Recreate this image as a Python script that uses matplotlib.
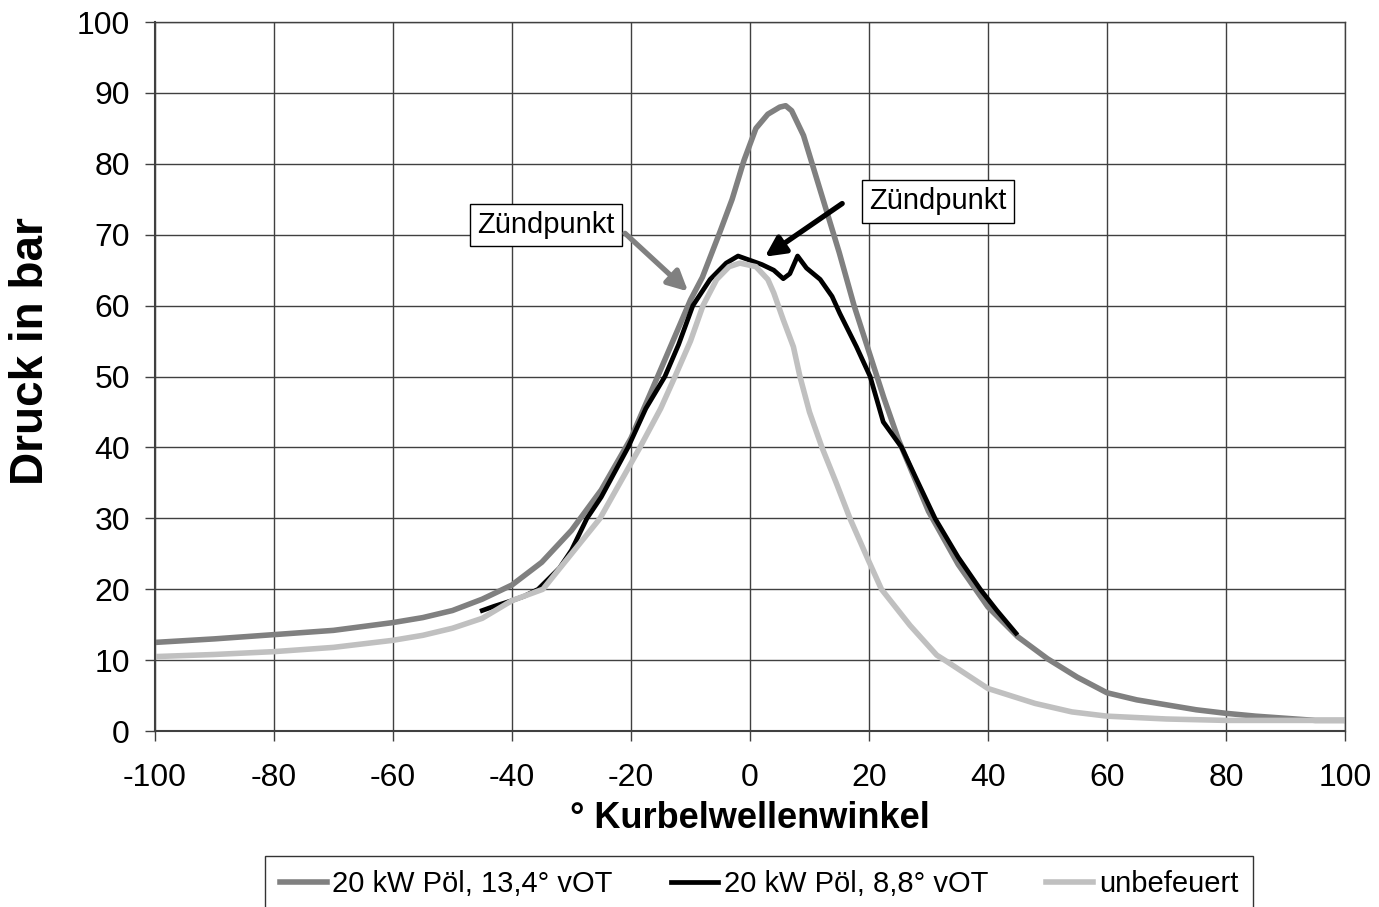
import numpy as np
import matplotlib
matplotlib.use("Agg")
import matplotlib.pyplot as plt

plt.rcParams['font.family'] = ['Liberation Sans', 'DejaVu Sans']
plt.rcParams['axes.unicode_minus'] = False

# 20 kW Pöl, 13,4° vOT (dunkelgrau)
kw_a = [-100, -90, -80, -70, -60, -55, -50, -45, -40, -35, -30, -25, -20, -15,
        -10, -8, -5, -3, -1, 1, 3, 5, 6, 7, 9, 11, 13, 15, 17.5, 20, 22.5, 25,
        30, 35, 40, 45, 50, 55, 60, 65, 70, 75, 80, 85, 90, 95, 100]
p_a = [12.5, 13.0, 13.6, 14.2, 15.3, 16.0, 17.0, 18.6, 20.6, 23.8, 28.3, 34.0,
       41.3, 51.0, 60.8, 64.0, 70.5, 75.0, 80.5, 85.0, 87.0, 88.0, 88.2, 87.5,
       84.0, 78.5, 73.0, 67.5, 60.0, 53.5, 47.0, 41.0, 31.0, 23.5, 17.5, 13.3,
       10.2, 7.6, 5.4, 4.4, 3.7, 3.0, 2.5, 2.1, 1.8, 1.5, 1.5]

# 20 kW Pöl, 8,8° vOT (schwarz)
kw_b = [-45, -43, -41.5, -40, -38, -35.6, -32, -30, -27.4, -25, -20.5, -17.5,
        -14.3, -12, -9.6, -6.7, -4, -2, 0, 2, 4, 5.6, 6.7, 8, 9.5, 11.8, 13.8,
        15.1, 17.9, 20.2, 22.4, 25.5, 28, 31.1, 35, 38.7, 41.5, 44.7]
p_b = [17.0, 17.6, 18.0, 18.4, 19.0, 20.0, 23.0, 25.5, 30.0, 33.0, 40.0, 45.5,
       50.0, 54.5, 60.0, 63.7, 66.0, 67.0, 66.4, 65.8, 65.0, 63.8, 64.5, 67.0,
       65.3, 63.7, 61.3, 58.9, 54.2, 50.0, 43.6, 40.0, 35.5, 30.0, 24.5, 20.0,
       17.0, 13.8]

# unbefeuert (hellgrau)
kw_c = [-100, -90, -80, -70, -60, -55, -50, -45, -40, -34.8, -30, -25.2, -18.5,
        -15, -12.6, -10, -7.9, -5.6, -3.5, -1.7, 1, 3, 4, 5.6, 7.3, 8.4, 10,
        12.1, 14.5, 16.8, 20, 22.1, 26.9, 31.4, 33.1, 40, 47.9, 54.1, 60, 70,
        80, 90, 100]
p_c = [10.5, 10.8, 11.2, 11.8, 12.8, 13.5, 14.5, 15.9, 18.4, 20.0, 25.0, 30.0,
       40.0, 45.5, 50.0, 55.0, 60.0, 63.7, 65.5, 66.0, 65.5, 63.7, 61.8, 58.0,
       54.2, 50.0, 45.0, 40.0, 35.0, 30.0, 23.9, 20.0, 14.9, 10.7, 9.8, 6.0,
       3.9, 2.7, 2.1, 1.7, 1.5, 1.5, 1.5]

labels = ['20 kW Pöl, 13,4° vOT', '20 kW Pöl, 8,8° vOT', 'unbefeuert']
colors = ['#808080', '#000000', '#c0c0c0']

fig = plt.figure(figsize=(13.79, 9.07), dpi=100)
ax = fig.add_axes([0.1124, 0.194, 0.8629, 0.7817])

ax.plot(kw_a, p_a, color=colors[0], lw=4.0, label=labels[0])
ax.plot(kw_b, p_b, color=colors[1], lw=3.4, label=labels[1])
ax.plot(kw_c, p_c, color=colors[2], lw=4.0, label=labels[2])

ax.set_xlim(-100, 100)
ax.set_ylim(0, 100)
ax.set_xticks(np.arange(-100, 101, 20))
ax.set_yticks(np.arange(0, 101, 10))
ax.grid(True, color='#404040', lw=1)
ax.set_axisbelow(True)
for s in ['top', 'right']:
    ax.spines[s].set_color('#404040')
    ax.spines[s].set_linewidth(1)
for s in ['left', 'bottom']:
    ax.spines[s].set_color('#404040')
    ax.spines[s].set_linewidth(1.5)
ax.tick_params(direction='out', length=7, width=1, labelsize=23, color='#404040')
ax.tick_params(axis='x', pad=16)
ax.tick_params(axis='y', pad=11)

ax.set_xlabel('° Kurbelwellenwinkel', fontsize=26, fontweight='bold', labelpad=6)
ax.set_ylabel('Druck in bar', fontsize=33, fontweight='bold')
ax.yaxis.set_label_coords(-0.0855, 0.536)

box = dict(boxstyle='square,pad=0.25', fc='white', ec='black', lw=1)
ax.text(-34.3, 71.4, 'Zündpunkt', fontsize=21, ha='center', va='center', bbox=box)
ax.text(31.6, 74.7, 'Zündpunkt', fontsize=21, ha='center', va='center', bbox=box)

ax.annotate('', xy=(-10.4, 62.0), xytext=(-21.0, 70.2),
            arrowprops=dict(arrowstyle='-|>', color='#808080', lw=3.8,
                            mutation_scale=30, shrinkA=0, shrinkB=0))
ax.annotate('', xy=(2.5, 66.9), xytext=(15.5, 74.4),
            arrowprops=dict(arrowstyle='-|>', color='black', lw=3.8,
                            mutation_scale=30, shrinkA=0, shrinkB=0))

leg = fig.legend(loc='upper center', bbox_to_anchor=(0.5505, 0.0565), ncol=3,
                 fontsize=21, frameon=True, fancybox=False, handlelength=1.6,
                 handletextpad=0.2, columnspacing=2.0, borderpad=0.5,
                 borderaxespad=0)
leg.get_frame().set_edgecolor('black')
leg.get_frame().set_linewidth(1)

fig.savefig('out.png', dpi=100)
